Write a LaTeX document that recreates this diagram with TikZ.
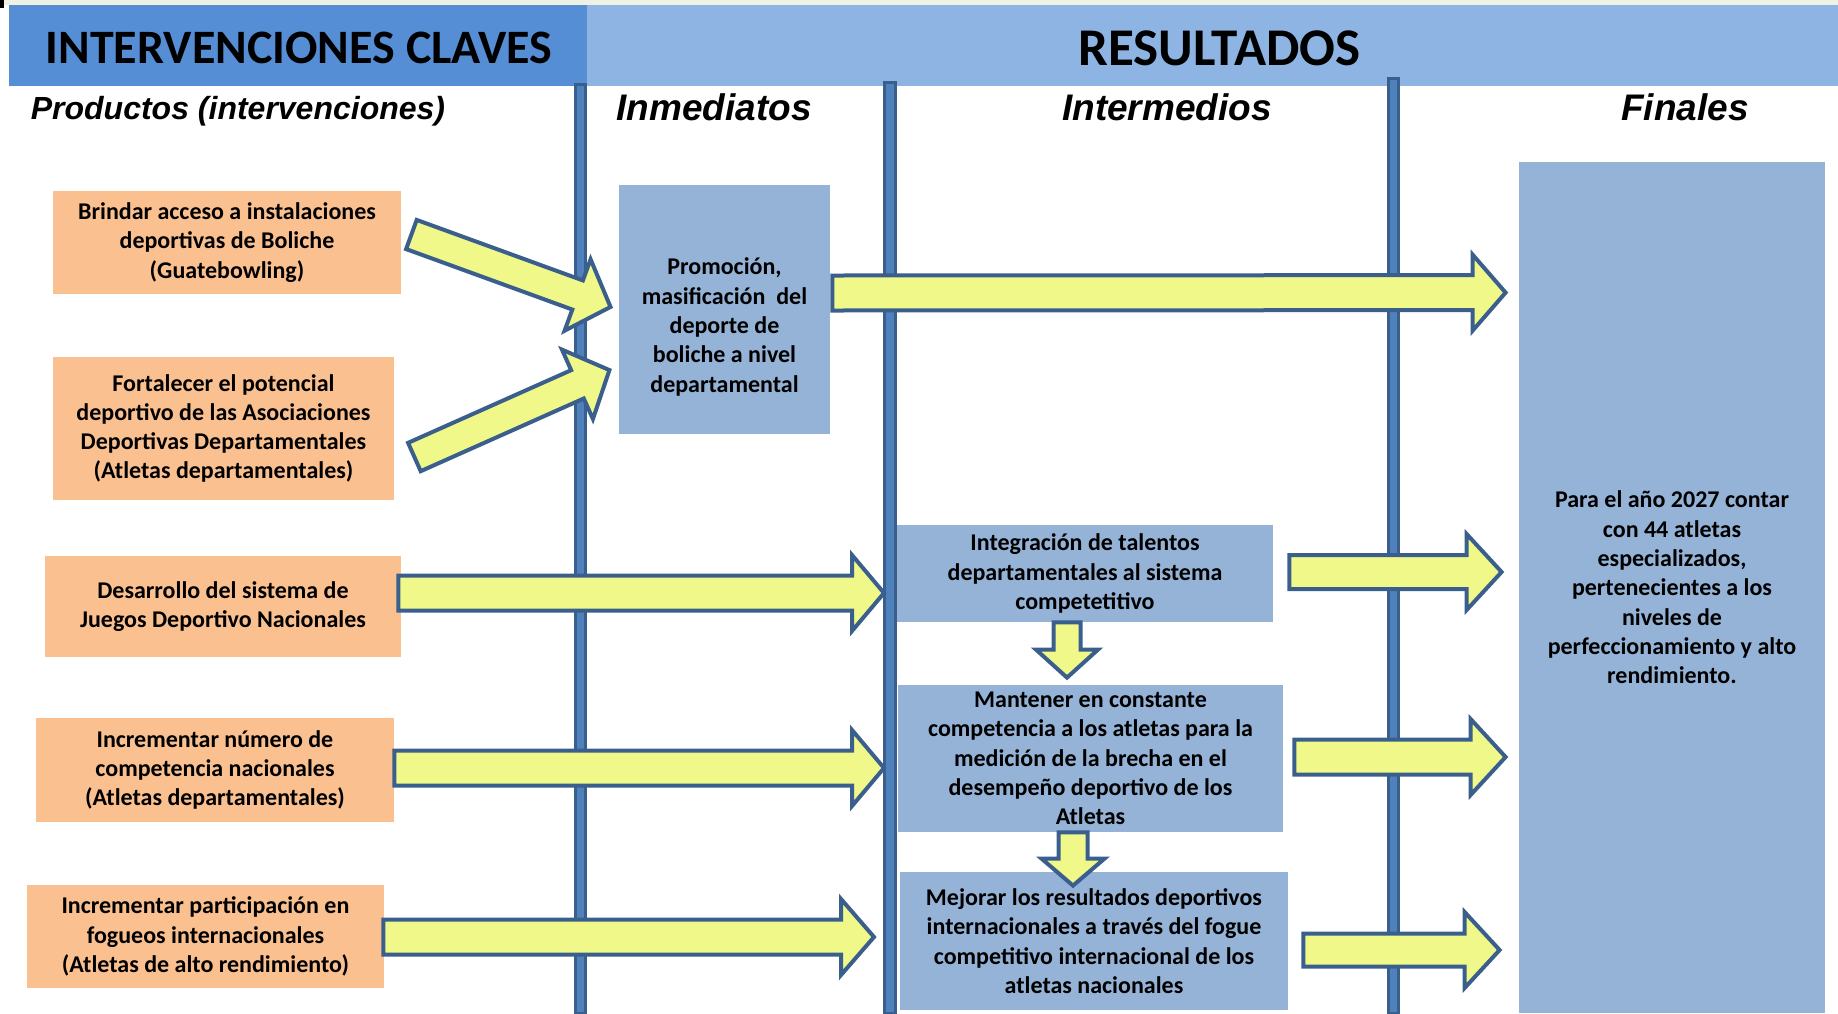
\documentclass[tikz,border=0pt]{standalone}
\usepackage{fontspec}
\setmainfont{Carlito}
\newfontfamily\headfont{Liberation Sans}
\usetikzlibrary{calc}

\definecolor{hdrdark}{HTML}{558ED5}
\definecolor{hdrlight}{HTML}{8EB4E3}
\definecolor{orangebox}{HTML}{FAC090}
\definecolor{bluebox}{HTML}{95B3D7}
\definecolor{arrowfill}{HTML}{F0F88A}
\definecolor{arrowline}{HTML}{3A5F8C}
\definecolor{barfill}{HTML}{4F81BD}
\definecolor{topstrip}{HTML}{EEF2E4}

\newcommand\bodyfont{\fontsize{12pt}{14.65pt}\selectfont\bfseries}

% block arrow: start, tip, shaft width, head width, head length (px)
\newcommand\barrow[5]{%
  \path (#1); \pgfgetlastxy{\bax}{\bay}%
  \path (#2); \pgfgetlastxy{\bbx}{\bby}%
  \pgfmathsetmacro\barang{atan2((\bby)-(\bay),(\bbx)-(\bax))}%
  \pgfmathsetmacro\barlen{veclen((\bbx)-(\bax),(\bby)-(\bay))}%
  \pgfmathsetmacro\barbase{\barlen-#5*0.5}%
  \pgfmathsetmacro\barsw{#3*0.25}%
  \pgfmathsetmacro\barhw{#4*0.25}%
  \draw[blockarrow, shift={(\bax,\bay)}, rotate=\barang]
    (0pt,\barsw pt) -- (\barbase pt,\barsw pt) -- (\barbase pt,\barhw pt)
    -- (\barlen pt,0pt) -- (\barbase pt,-\barhw pt) -- (\barbase pt,-\barsw pt)
    -- (0pt,-\barsw pt) -- cycle;}

\begin{document}
\begin{tikzpicture}[x=0.5pt,y=-0.5pt,
  obox/.style={fill=orangebox, inner sep=0pt, align=center, font=\bodyfont},
  bbox/.style={fill=bluebox, inner sep=0pt, align=center, font=\bodyfont},
  colhead/.style={font=\fontsize{18.5pt}{21pt}\headfont\bfseries\itshape, anchor=base},
  blockarrow/.style={draw=arrowline, fill=arrowfill, line width=2pt},
  vbar/.style={draw=arrowline, fill=barfill, line width=1.5pt}]
\useasboundingbox (0,0) rectangle (1838,1013);
% header
\fill[topstrip] (0,0) rectangle (1838,5);
\fill[black] (0,0) rectangle (4,8);
\fill[hdrdark] (9,5) rectangle (587,86);
\fill[hdrlight] (587,5) rectangle (1838,86);
\node[font=\fontsize{24pt}{28pt}\selectfont\bfseries] (hint) at (299,48) {INTERVENCIONES CLAVES};
\node[font=\fontsize{26.5pt}{30pt}\selectfont\bfseries] (hres) at (1219.5,48) {RESULTADOS};
\node[colhead, font=\fontsize{16pt}{18pt}\headfont\bfseries\itshape] (hprod) at (238,119) {Productos (intervenciones)};
\node[colhead] (hinm) at (714,120) {Inmediatos};
\node[colhead] (hint2) at (1167,120) {Intermedios};
\node[colhead] (hfin) at (1685,120) {Finales};
% column bars
\draw[vbar] (575.5,84) rectangle (585.5,1013);
\draw[vbar] (884.5,82) rectangle (895.5,1013);
\draw[vbar] (1388.5,78) rectangle (1398.5,1013);
% products
\node[obox, minimum width=174pt, minimum height=51.5pt] (b1) at (227,242.5)
  {Brindar acceso a instalaciones\\deportivas de Boliche\\(Guatebowling)};
\node[obox, minimum width=170.5pt, minimum height=71.5pt] (b2) at (223.5,428.5)
  {Fortalecer el potencial\\deportivo de las Asociaciones\\Deportivas Departamentales\\(Atletas departamentales)};
\node[obox, minimum width=178pt, minimum height=50.5pt] (b3) at (223,606.5)
  {Desarrollo del sistema de\\Juegos Deportivo Nacionales};
\node[obox, minimum width=179pt, minimum height=52pt] (b4) at (215,770)
  {Incrementar número de\\competencia nacionales\\(Atletas departamentales)};
\node[obox, minimum width=178.5pt, minimum height=51.5pt] (b5) at (205.5,936.5)
  {Incrementar participación en\\fogueos internacionales\\(Atletas de alto rendimiento)};
% results
\node[bbox, minimum width=105.5pt, minimum height=124.5pt] (p) at (724.5,309.5) {};
\node[align=center, font=\bodyfont, inner sep=0pt] (ptext) at (724.5,327)
  {Promoción,\\masificación\ \ del\\deporte de\\boliche a nivel\\departamental};
\node[bbox, minimum width=188pt, minimum height=48.5pt] (i1) at (1085,573.5)
  {Integración de talentos\\departamentales al sistema\\competetitivo};
\node[bbox, minimum width=192.5pt, minimum height=73.5pt] (i2) at (1090.5,758.5)
  {Mantener en constante\\competencia a los atletas para la\\medición de la brecha en el\\desempeño deportivo de los\\Atletas};
\node[bbox, minimum width=194pt, minimum height=69pt] (i3) at (1094,941)
  {Mejorar los resultados deportivos\\internacionales a través del fogue\\competitivo internacional de los\\atletas nacionales};
\node[bbox, minimum width=153pt, minimum height=425.5pt] (f) at (1672,587.5)
  {Para el año 2027 contar\\con 44 atletas\\especializados,\\pertenecientes a los\\niveles de\\perfeccionamiento y alto\\rendimiento.};
% free ends on the second bar
\coordinate (t3) at (884,593);
\coordinate (t4) at (884,768);
\coordinate (t5) at (874,937);
% arrows
\barrow{$(b1.east)+(10,-8)$}{$(p.west)+(-8,-2.5)$}{31}{76}{35}
\barrow{$(b2.east)+(20,28.5)$}{$(p.west)+(-9,60.5)$}{31}{76}{35}
\barrow{$(p.east)+(2,-16.5)$}{$(f.north west)+(-13,131)$}{35}{76}{33}
\barrow{$(b3.east)+(-3,-13.5)$}{t3}{35}{76}{32}
\barrow{$(b4.east)+(0,-2)$}{t4}{35}{76}{32}
\barrow{$(b5.east)+(-1,0.5)$}{t5}{35}{76}{33}
\barrow{$(i1.east)+(16,-1.5)$}{$(f.west |- i1)+(-17,-1.5)$}{34}{76}{35}
\barrow{$(i2.east)+(11,-1.5)$}{$(f.west |- i2)+(-13,-1.5)$}{35}{76}{35}
\barrow{$(i3.east)+(15,9)$}{$(f.west |- i3)+(-19,9)$}{33}{76}{35}
\barrow{$(i1.south)+(-18,0)$}{$(i2.north)+(-23.5,-7)$}{27}{62}{28}
\barrow{$(i2.south)+(-17.5,0)$}{$(i3.north)+(-21,14)$}{29}{63}{27}
\end{tikzpicture}
\end{document}
